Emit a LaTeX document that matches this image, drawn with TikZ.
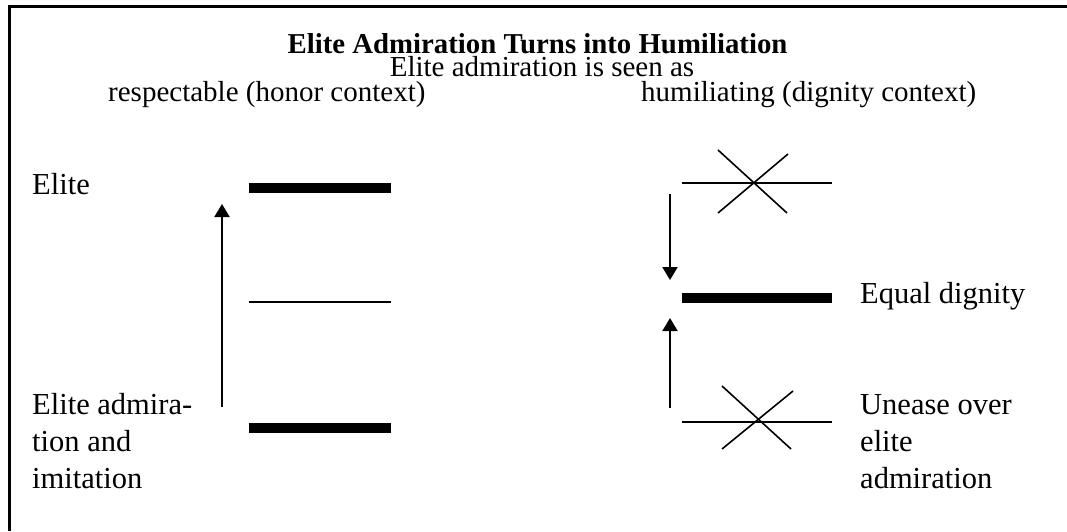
\documentclass[tikz,border=0pt]{standalone}
\usepackage{fontspec}
\setmainfont{Liberation Serif}
\usetikzlibrary{arrows.meta}
\begin{document}
\begin{tikzpicture}[x=1pt,y=-1pt,
  txt/.style={font=\fontsize{29}{37}\selectfont, inner sep=0pt},
  lbl/.style={font=\fontsize{30.5}{37}\selectfont, inner sep=0pt},
  ttl/.style={font=\fontsize{28.8}{37}\selectfont\bfseries, inner sep=0pt},
  bar/.style={line width=10pt},
  thinbar/.style={line width=1.8pt},
  arr/.style={line width=2pt,-{Triangle[width=15pt,length=13pt]}},
  cross/.style={line width=1.6pt}]
\useasboundingbox (0,0) rectangle (1067,531);
\draw[line width=2.6pt] (9.5,531) -- (9.5,6.3) -- (1067,6.3);
% texts
\node[ttl,anchor=base] (title) at (537.5,53) {Elite Admiration Turns into Humiliation};
\node[txt,anchor=base] (sub) at (542,76) {Elite admiration is seen as};
\node[txt,anchor=base west] (resp) at (108,101) {respectable (honor context)};
\node[txt,anchor=base west] (hum) at (641,101) {humiliating (dignity context)};
\node[lbl,anchor=base west] (elite) at (32,194) {Elite};
\node[lbl,anchor=base west,align=left] (admir) at (32,488) {Elite admira-\\tion and\\imitation};
\node[lbl,anchor=base west] (equal) at (860,303) {Equal dignity};
\node[lbl,anchor=base west,align=left] (unease) at (860,488) {Unease over\\elite\\admiration};
% left levels
\draw[bar] (249,188) -- (391,188);
\draw[thinbar] (249,302) -- (391,302);
\draw[bar] (249,427.5) -- (391,427.5);
\coordinate (a1s) at (222,407);
\coordinate (a1e) at (222,204);
\draw[arr] (a1s) -- (a1e);
% right levels
\draw[thinbar] (682,183) -- (832,183);
\draw[cross] (718,150) -- (787,213);
\draw[cross] (718,213) -- (788,154);
\draw[bar] (682,297.5) -- (832,297.5);
\draw[thinbar] (682,422) -- (832,422);
\draw[cross] (722,386) -- (791,449);
\draw[cross] (722,449) -- (793,391);
\coordinate (a2s) at (670,194);
\coordinate (a2e) at (670,280);
\draw[arr] (a2s) -- (a2e);
\coordinate (a3s) at (670,408);
\coordinate (a3e) at (670,318);
\draw[arr] (a3s) -- (a3e);
\end{tikzpicture}
\end{document}
